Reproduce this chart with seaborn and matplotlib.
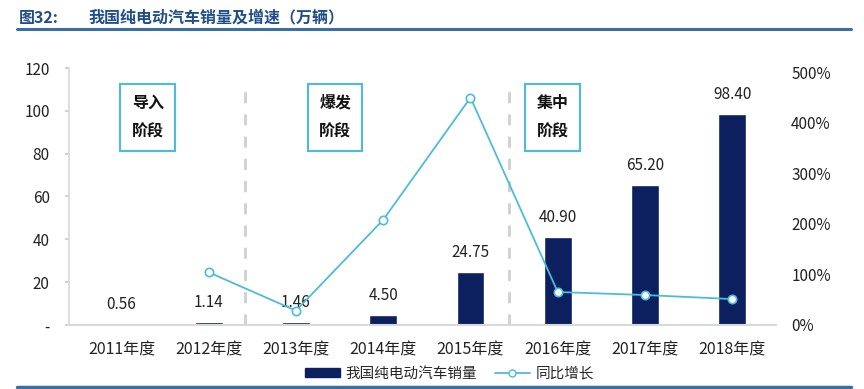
import numpy as np
import pandas as pd
import matplotlib
matplotlib.use("Agg")
import matplotlib.pyplot as plt
import seaborn as sns

years = ["2011年度", "2012年度", "2013年度", "2014年度", "2015年度", "2016年度", "2017年度", "2018年度"]
sales = [0.56, 1.14, 1.46, 4.50, 24.75, 40.90, 65.20, 98.40]
growth = [np.nan, 1.04, 0.28, 2.08, 4.50, 0.65, 0.59, 0.51]
sales_labels = ["0.56", "1.14", "1.46", "4.50", "24.75", "40.90", "65.20", "98.40"]
left_ticks = [0, 20, 40, 60, 80, 100, 120]
left_ticklabels = ["-", "20", "40", "60", "80", "100", "120"]
right_ticks = [0, 1, 2, 3, 4, 5]
right_ticklabels = ["0%", "100%", "200%", "300%", "400%", "500%"]
stages = ["导入\n阶段", "爆发\n阶段", "集中\n阶段"]
stage_pos = [0.3, 2.45, 4.94]
divider_pos = [1.42, 4.44]

sns.set_theme(style="white")
plt.rcParams["font.family"] = ["Noto Sans CJK SC", "DejaVu Sans"]

NAVY = "#0c1f5e"
CYAN = "#4dbbdc"
TITLE_BLUE = "#1f4e8a"

df = pd.DataFrame({"year": years, "sales": sales, "growth": growth, "pos": np.arange(len(years))})

fig = plt.figure(figsize=(8.64, 3.89), dpi=100)
ax = fig.add_axes([0.080, 0.165, 0.818, 0.66])

sns.barplot(data=df, x="year", y="sales", color=NAVY, width=0.32, ax=ax, saturation=1)
ax.set_ylim(0, 120)
ax.set_xlim(-0.6, 7.5)
ax.set_yticks(left_ticks)
ax.set_yticklabels(left_ticklabels, fontsize=11, color="#222222")
ax.tick_params(axis="y", length=3, color="#cccccc", pad=11)
ax.tick_params(axis="x", length=0, labelsize=11.5, pad=12, colors="#222222")
ax.set_xlabel("")
ax.set_ylabel("")
for s in ["top", "right"]:
    ax.spines[s].set_visible(False)
ax.spines["left"].set_color("#d9d9d9")
ax.spines["bottom"].set_color("#d9d9d9")
ax.spines["left"].set_linewidth(1.2)
ax.spines["bottom"].set_linewidth(1.5)

for i, (v, lab) in enumerate(zip(sales, sales_labels)):
    ax.annotate(lab, (i, v), xytext=(0, 8), textcoords="offset points",
                ha="center", va="bottom", fontsize=11, color="#222222")

for xp in divider_pos:
    ax.plot([xp, xp], [0, 114], color="#cfcfcf", lw=2, ls=(0, (4, 4)), zorder=0)

for txt, xp in zip(stages, stage_pos):
    ax.text(xp, 97, txt, ha="center", va="center", fontsize=11.5, fontweight="bold",
            linespacing=2.0, color="#111111",
            bbox=dict(boxstyle="square,pad=0.7", fc="white", ec=CYAN, lw=1.5))

ax2 = ax.twinx()
sns.lineplot(data=df, x="pos", y="growth", color=CYAN, lw=1.3, marker="o", markersize=6,
             markerfacecolor="white", markeredgecolor=CYAN, markeredgewidth=1.2, ax=ax2,
             label="同比增长", legend=False)
ax2.set_ylim(0, 5 * 120 / 118)
ax2.set_yticks(right_ticks)
ax2.set_yticklabels(right_ticklabels, fontsize=11, color="#222222")
ax2.tick_params(axis="y", length=0, pad=11)
ax2.set_ylabel("")
ax2.set_xlabel("")
for s in ["top", "right", "left", "bottom"]:
    ax2.spines[s].set_visible(False)

from matplotlib.patches import Patch
from matplotlib.lines import Line2D
handles = [Patch(color=NAVY, label="我国纯电动汽车销量"),
           Line2D([0], [0], color=CYAN, lw=1.3, marker="o", markersize=5,
                  markerfacecolor="white", markeredgecolor=CYAN, label="同比增长")]
fig.legend(handles=handles, loc="center", bbox_to_anchor=(0.52, 0.04), ncol=2, frameon=False,
           fontsize=10.5, handlelength=2.4, handleheight=0.55, columnspacing=1.2, handletextpad=0.4)

fig.text(0.022, 0.955, "图32:", fontsize=11.5, fontweight="bold", color=TITLE_BLUE, va="center")
fig.text(0.102, 0.955, "我国纯电动汽车销量及增速（万辆）", fontsize=11.5, fontweight="bold",
         color=TITLE_BLUE, va="center")
fig.add_artist(Line2D([0.02, 0.985], [0.925, 0.925], color="#3a6ea5", lw=2.2))
fig.add_artist(Line2D([0.02, 0.985], [0.006, 0.006], color="#3a6ea5", lw=2.5))

fig.savefig("out.png", dpi=100)
